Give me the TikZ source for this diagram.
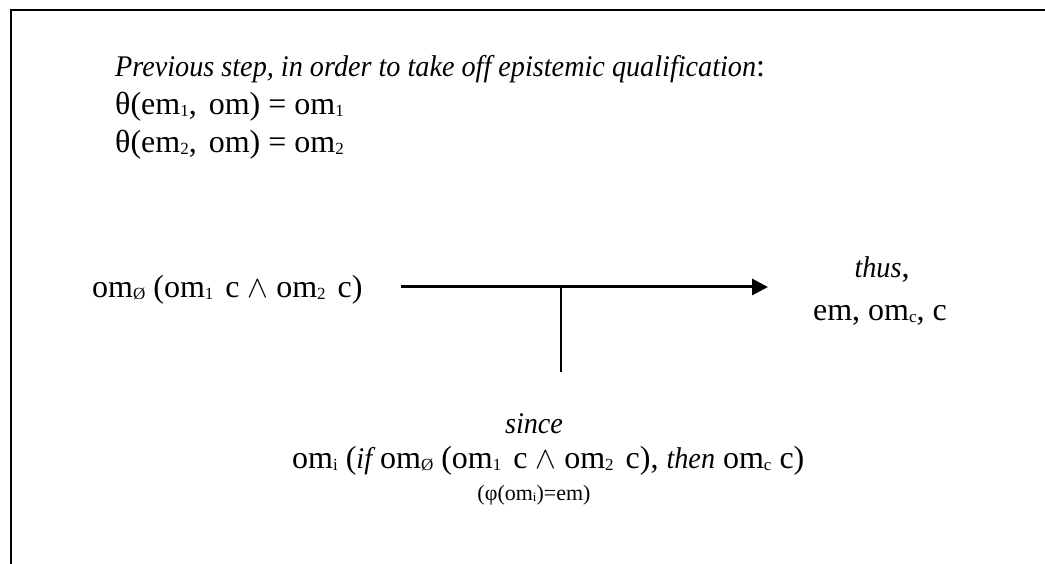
\documentclass[tikz,border=0pt]{standalone}
\usepackage{fontspec}
\usepackage{graphicx}
\setmainfont{Liberation Serif}
\usetikzlibrary{arrows.meta}
\newcommand{\lowsub}[1]{\raisebox{-2pt}{\fontsize{17}{17}\selectfont #1}}
\newcommand{\smallsub}[1]{\raisebox{-1.5pt}{\fontsize{13}{13}\selectfont #1}}
\newcommand{\itx}[1]{\scalebox{0.94}[1]{\fontsize{30}{36}\selectfont\itshape #1}}
\newcommand{\andsym}{\scalebox{1.25}{$\wedge$}}
\newcommand{\gap}{\hspace{4pt}}
\tikzset{
  txt/.style={inner sep=0pt, font=\fontsize{32}{38}\selectfont},
  smalltxt/.style={inner sep=0pt, font=\fontsize{22}{26}\selectfont},
  frame/.style={line width=2pt, black},
  mainarrow/.style={line width=3pt, -{Triangle[length=16pt,width=16pt]}},
  stem/.style={line width=1.5pt}
}
\begin{document}
\begin{tikzpicture}[x=1pt,y=-1pt]
\useasboundingbox (0,0) rectangle (1045,564);
\coordinate (tl) at (11,10);
\coordinate (tr) at (1045,10);
\coordinate (bl) at (11,564);
\draw[frame] (tr) -- (tl) -- (bl);

\node[txt, anchor=base west] (prev) at (115,77) {\itx{Previous step, in order to take off epistemic qualification}:};
\node[txt, anchor=base west] (th1) at (115,115) {θ(em\lowsub{1}, \gap om) = om\lowsub{1}};
\node[txt, anchor=base west] (th2) at (115,153) {θ(em\lowsub{2}, \gap om) = om\lowsub{2}};

\node[txt, anchor=base west] (left) at (92,298) {om\lowsub{Ø} (om\lowsub{1}\gap{} c \andsym{} om\lowsub{2}\gap{} c)};

\coordinate (astart) at (401,287);
\coordinate (aend) at (768,287);
\coordinate (tjoin) at (561,287);
\coordinate (tend) at (561,372);
\draw[mainarrow] (astart) -- (aend);
\draw[stem] (tjoin) -- (tend);

\node[txt, anchor=base] (thus) at (882,278) {\itx{thus},};
\node[txt, anchor=base] (res) at (880,320) {em, om\lowsub{c}, c};

\node[txt, anchor=base] (since) at (534,433) {\itx{since}};
\node[txt, anchor=base west] (cond) at (292,468) {om\lowsub{i} (\itx{if} om\lowsub{Ø} (om\lowsub{1}\gap{} c \andsym{} om\lowsub{2}\gap{} c), \itx{then} om\lowsub{c} c)};
\node[smalltxt, anchor=base] (phi) at (534,500) {(φ(om\smallsub{i})=em)};
\end{tikzpicture}
\end{document}
